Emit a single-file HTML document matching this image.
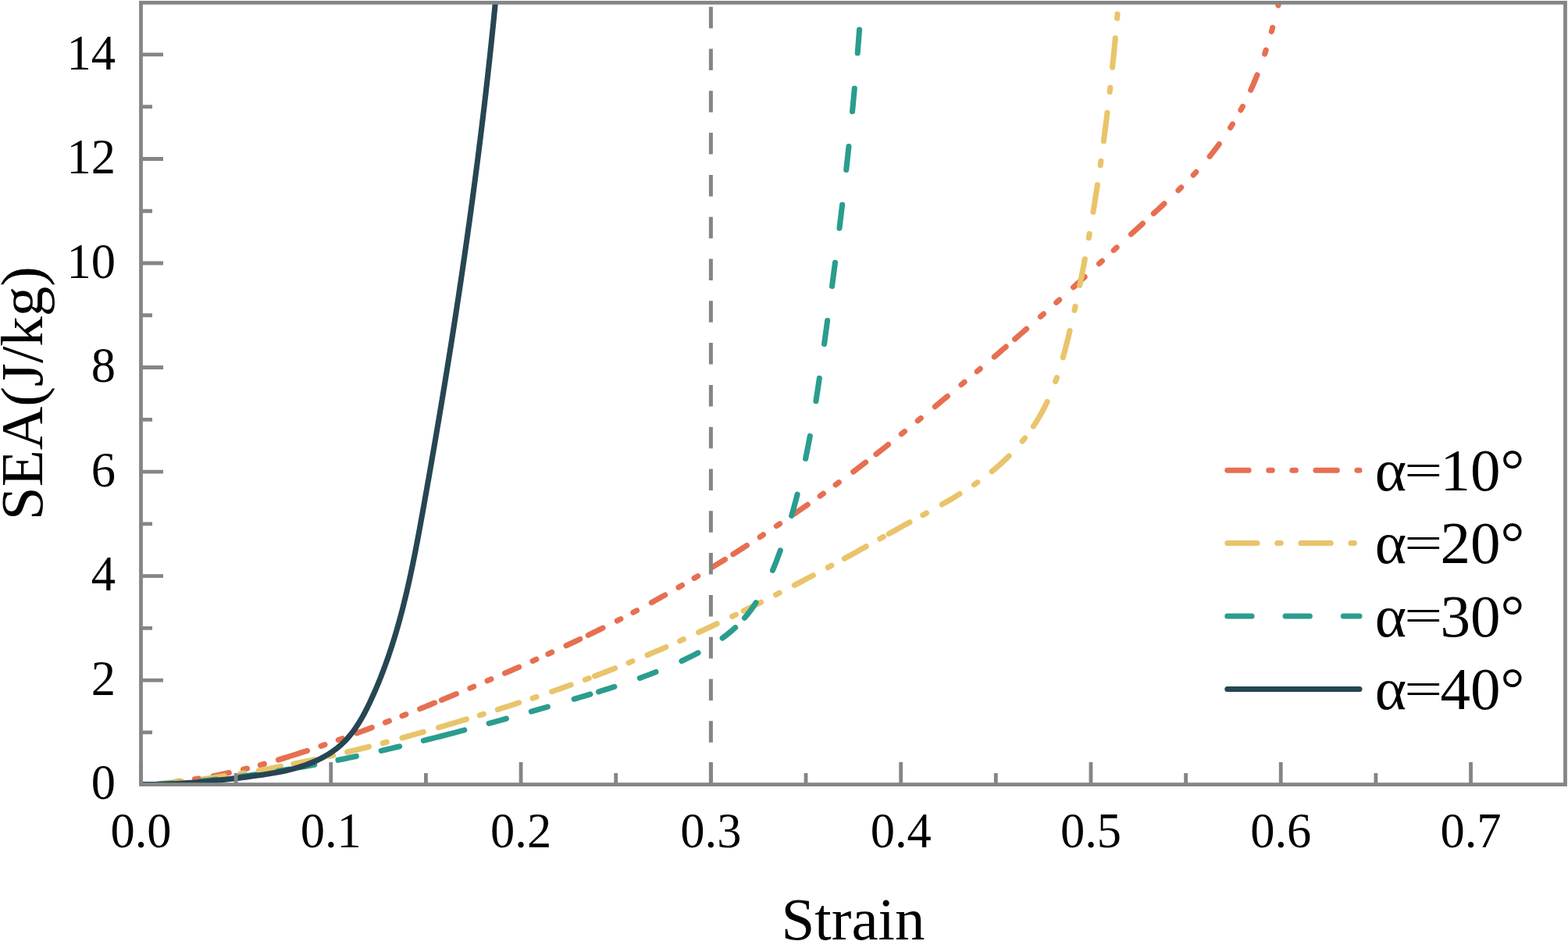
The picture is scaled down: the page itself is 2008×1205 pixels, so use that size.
<!DOCTYPE html>
<html><head><meta charset="utf-8"><title>SEA vs Strain</title>
<style>html,body{margin:0;padding:0;background:#fff;overflow:hidden;}svg{display:block;}</style>
</head><body>
<svg width="2008" height="1205" viewBox="0 0 2008 1205">
<rect width="2008" height="1205" fill="#fff"/>
<defs><clipPath id="c"><rect x="180.5" y="3.4" width="1824" height="1001.2"/></clipPath></defs>
<g clip-path="url(#c)" fill="none" stroke-linecap="round" stroke-linejoin="round" stroke-width="7.1">
<path d="M225.41,1000.95 230.57,1000.36M249.34,997.80 254.48,996.99M273.15,993.70 279.86,992.39 286.56,991.01 293.25,989.57M311.50,985.30 316.54,984.04M333.31,979.63 338.33,978.25M356.43,973.01 363.87,970.76 371.30,968.46 378.71,966.11 386.11,963.72 393.49,961.28M411.06,955.32 415.98,953.62M433.29,947.49 438.19,945.74M456.92,938.91 463.39,936.51 469.86,934.10 476.32,931.66M493.50,925.11 498.35,923.24M514.98,916.76 519.82,914.84M537.62,907.75 543.92,905.20 550.23,902.65 556.52,900.08M565.40,896.44 571.73,893.82 578.07,891.20 584.39,888.56M601.91,881.20 606.70,879.17M624.12,871.75 628.90,869.69M646.57,862.06 652.60,859.44 658.62,856.80 664.63,854.15M682.11,846.40 686.85,844.27M701.98,837.43 706.70,835.27M725.06,826.77 731.00,823.98 736.93,821.18 742.85,818.36M753.24,813.36 759.51,810.31 765.76,807.24 772.01,804.16M790.23,794.97 794.86,792.59M810.92,784.23 815.52,781.79M834.31,771.64 840.12,768.44 845.92,765.22 851.70,761.98M868.98,752.13 873.47,749.52M889.11,740.34 893.58,737.68M912.30,726.35 917.68,723.04 923.06,719.72 928.43,716.37M938.85,709.83 944.71,706.10 950.56,702.36 956.40,698.61M973.14,687.70 977.49,684.84M994.32,673.62 998.64,670.72M1017.66,657.76 1023.18,653.95 1028.68,650.13 1034.19,646.31M1050.11,635.09 1054.35,632.07M1070.04,620.76 1074.24,617.70M1092.69,604.04 1097.99,600.05 1103.29,596.04 1108.57,592.01M1122.00,581.61 1127.21,577.53 1132.40,573.43 1137.59,569.31M1154.41,555.82 1158.45,552.54M1175.27,538.83 1179.29,535.53M1197.36,520.67 1202.70,516.25 1208.04,511.83 1213.37,507.40M1231.04,492.65 1235.03,489.31M1251.24,475.65 1255.21,472.28M1273.24,456.95 1278.23,452.68 1283.21,448.39 1288.20,444.11M1299.63,434.23 1304.59,429.92 1309.55,425.61 1314.50,421.30M1332.47,405.51 1336.37,402.07M1352.79,387.47 1356.66,384.00M1374.61,367.83 1379.46,363.42 1384.30,359.01 1389.14,354.60M1407.58,337.68 1411.40,334.16M1426.21,320.50 1430.03,316.98M1448.51,299.93 1453.46,295.37 1458.41,290.81 1463.37,286.26M1477.35,273.44 1481.90,269.26 1486.44,265.06 1490.97,260.85M1508.94,243.73 1512.65,240.08M1528.18,224.16 1531.73,220.35M1549.09,200.34 1553.23,195.15 1557.28,189.89 1561.25,184.57M1575.69,163.40 1578.45,158.99M1588.94,140.92 1591.41,136.34M1601.73,115.35 1604.58,108.95 1607.32,102.50 1609.95,96.00M1619.61,69.14 1621.21,64.19M1628.30,40.33 1629.67,35.31M1636.89,6.82 1638.31,0.86 1639.70,-5.12" stroke="#E76F51"/>
<path d="M208.09,1002.99 214.29,1002.47 220.48,1001.93 226.67,1001.34 232.85,1000.72M260.26,997.58 267.07,996.69 273.88,995.78 280.68,994.83 287.47,993.85M307.64,990.73 312.77,989.89M331.50,986.68 338.51,985.42 345.51,984.12 352.50,982.81 359.49,981.46M376.00,978.18 382.51,976.84 389.01,975.49 395.51,974.11 402.01,972.71M421.61,968.39 426.68,967.24M444.63,963.05 451.59,961.38 458.54,959.68 465.48,957.95 472.42,956.19M490.27,951.55 495.30,950.21M515.02,944.86 521.86,942.97 528.69,941.07 535.51,939.14 542.34,937.21M561.57,931.68 568.76,929.57 575.95,927.45 583.13,925.32 590.31,923.16 597.48,920.99M614.33,915.84 619.29,914.29M637.36,908.62 644.18,906.44 651.00,904.26 657.81,902.05 664.61,899.83M682.07,894.03 687.00,892.38M706.68,885.64 712.80,883.50 718.92,881.35 725.03,879.18 731.14,876.99M749.34,870.35 754.22,868.54M761.47,865.82 768.00,863.34 774.52,860.84 781.03,858.32 787.54,855.77M805.07,848.77 809.88,846.80M829.01,838.86 835.00,836.32 840.98,833.77 846.94,831.18 852.91,828.59M870.66,820.72 875.41,818.59M894.69,809.77 900.56,807.05 906.43,804.31 912.28,801.55 918.13,798.79M937.69,789.39 942.37,787.11M952.17,782.31 957.76,779.56 963.34,776.79 968.92,774.01 974.49,771.22M993.50,761.62 998.13,759.25M1017.35,749.36 1023.35,746.24 1029.34,743.11 1035.33,739.97 1041.32,736.81M1060.29,726.69 1064.87,724.22M1081.49,715.17 1088.42,711.36 1095.34,707.53 1102.26,703.69 1109.17,699.83M1126.87,689.93 1131.41,687.39M1138.34,683.52 1144.97,679.82 1151.61,676.14 1158.25,672.46 1164.90,668.79M1181.86,659.52 1186.42,657.02M1206.37,645.94 1212.08,642.68 1217.76,639.36 1223.42,636.01 1229.03,632.58M1247.53,620.60 1251.80,617.63M1270.18,603.73 1275.83,599.00 1281.37,594.13 1286.78,589.11 1292.06,583.96M1309.24,564.99 1312.50,560.93M1323.31,546.06 1327.25,539.97 1331.01,533.77 1334.56,527.44 1337.90,521.01 1341.06,514.48M1351.66,488.48 1353.38,483.57M1361.32,457.75 1363.17,450.93 1364.96,444.10 1366.68,437.24 1368.36,430.38 1369.99,423.50M1375.93,397.44 1377.05,392.36M1382.78,365.25 1384.13,358.56 1385.46,351.87 1386.78,345.17 1388.07,338.47 1389.35,331.76M1394.30,304.57 1395.21,299.45M1399.93,271.45 1401.06,264.53 1402.16,257.61 1403.25,250.69 1404.32,243.77 1405.38,236.85M1409.12,211.43 1409.86,206.28M1413.35,180.75 1414.32,173.49 1415.26,166.22 1416.19,158.96 1417.10,151.69 1417.99,144.42M1421.17,117.53 1421.76,112.36M1424.59,86.22 1425.37,78.74 1426.13,71.26 1426.88,63.78 1427.60,56.29 1428.31,48.81M1430.62,23.35 1431.06,18.17" stroke="#E9C46A"/>
<path d="M203.11,1004.12 209.37,1003.77 215.63,1003.40 221.89,1002.99M257.97,1000.04 264.25,999.43 270.52,998.79 276.78,998.12M307.98,994.38 314.30,993.54 320.60,992.68 326.91,991.80M356.19,987.34 363.16,986.21 370.12,985.04M382.88,982.84 389.51,981.65 396.13,980.44 402.76,979.21M432.98,973.30 440.78,971.69 448.57,970.07 456.35,968.41M488.17,961.35 494.03,960.00 499.88,958.64 505.73,957.27 511.58,955.88M542.31,948.39 549.83,946.52 557.33,944.61 564.84,942.70 572.34,940.77 579.83,938.81 587.32,936.85 594.81,934.87M626.14,926.41 633.56,924.36 640.97,922.31 648.38,920.24M680.36,911.19 687.38,909.17 694.39,907.16 701.39,905.12M735.17,895.22 742.10,893.18 749.02,891.11 755.94,889.02M766.53,885.79 773.32,883.69 780.09,881.55 786.85,879.38M819.33,868.30 826.22,865.78 833.08,863.20 839.92,860.54M872.94,846.42 880.03,843.07 887.06,839.60 894.03,836.02M925.13,817.10 930.82,812.85 936.34,808.38 941.65,803.68M953.52,791.33 957.40,786.64 961.10,781.81 964.64,776.86 968.02,771.80M989.43,730.44 992.05,724.11 994.57,717.73 996.99,711.33 999.33,704.89M1013.67,660.46 1015.61,653.66 1017.49,646.83 1019.32,640.00 1021.09,633.15M1031.65,587.25 1033.12,580.04 1034.54,572.82 1035.93,565.60 1037.28,558.37M1044.89,513.62 1046.03,506.32 1047.15,499.03 1048.24,491.72 1049.32,484.42M1055.55,440.41 1056.57,432.95 1057.60,425.50 1058.62,418.05 1059.63,410.60M1065.54,366.47 1066.54,358.90 1067.52,351.34 1068.50,343.77 1069.47,336.20M1074.99,292.13 1075.90,284.66 1076.81,277.20 1077.70,269.73 1078.59,262.26M1083.73,217.40 1084.56,209.92 1085.38,202.44 1086.18,194.96 1086.98,187.48M1091.52,142.73 1092.23,135.37 1092.93,128.02 1093.62,120.67 1094.30,113.31M1098.20,68.02 1098.80,60.53 1099.40,53.03 1099.98,45.54 1100.54,38.04" stroke="#2A9D8F"/>
<path d="M180.45,1004.58 186.45,1004.60 192.45,1004.57 198.45,1004.49 204.45,1004.36 210.45,1004.18 216.44,1003.96 222.44,1003.69 228.43,1003.38 234.42,1003.02 240.41,1002.63 246.39,1002.20 252.37,1001.73 258.35,1001.23 264.33,1000.69 270.30,1000.12 276.27,999.52 282.24,998.90 288.20,998.24 294.16,997.56 300.12,996.86 306.08,996.14 312.03,995.39 317.98,994.63 323.93,993.85 329.88,993.05 335.82,992.21 341.75,991.33 347.68,990.37 353.59,989.34 359.48,988.21 365.35,986.97 371.19,985.60 377.00,984.08 382.76,982.42 388.47,980.59 394.13,978.58 399.71,976.38 405.21,973.99 410.62,971.38 415.91,968.56 421.08,965.51 426.09,962.21 430.92,958.66 435.56,954.85 439.96,950.77 444.12,946.45 448.05,941.92 451.76,937.20 455.26,932.33 458.57,927.33 461.71,922.21 464.69,917.00 467.53,911.72 470.25,906.37 472.88,900.98 475.42,895.54 477.90,890.08 480.31,884.59 482.67,879.07 484.97,873.53 487.22,867.96 489.40,862.38 491.53,856.77 493.61,851.14 495.64,845.49 497.61,839.83 499.54,834.14 501.41,828.44 503.23,822.73 505.01,817.00 506.75,811.25 508.44,805.50 510.09,799.73 511.69,793.95 513.26,788.16 514.79,782.35 516.28,776.54 517.74,770.72 519.16,764.89 520.55,759.06 521.91,753.21 523.24,747.36 524.54,741.50 525.81,735.64 527.06,729.77 528.29,723.90 529.50,718.02 530.68,712.14 531.84,706.25 532.99,700.36 534.12,694.47 535.24,688.58 536.34,682.68 537.44,676.78 538.52,670.88 539.59,664.97 540.66,659.07 541.72,653.16 542.78,647.26 543.83,641.35 544.88,635.44 545.93,629.54 546.97,623.63 548.02,617.72 549.06,611.81 550.09,605.90 551.13,599.99 552.16,594.08 553.18,588.17 554.21,582.26 555.23,576.34 556.25,570.43 557.26,564.52 558.27,558.60 559.28,552.69 560.28,546.77 561.29,540.86 562.28,534.94 563.28,529.02 564.27,523.11 565.26,517.19 566.24,511.27 567.22,505.35 568.20,499.43 569.17,493.51 570.14,487.59 571.11,481.67 572.07,475.74 573.03,469.82 573.99,463.90 574.94,457.97 575.89,452.05 576.83,446.12 577.77,440.20 578.71,434.27 579.64,428.34 580.57,422.42 581.50,416.49 582.42,410.56 583.33,404.63 584.25,398.70 585.16,392.77 586.06,386.84 586.96,380.91 587.86,374.97 588.75,369.04 589.64,363.11 590.52,357.17 591.40,351.24 592.28,345.30 593.15,339.36 594.01,333.43 594.88,327.49 595.73,321.55 596.59,315.61 597.44,309.67 598.28,303.73 599.12,297.79 599.96,291.85 600.79,285.91 601.61,279.96 602.43,274.02 603.25,268.08 604.06,262.13 604.87,256.19 605.67,250.24 606.47,244.29 607.26,238.35 608.05,232.40 608.83,226.45 609.61,220.50 610.39,214.55 611.16,208.60 611.92,202.65 612.68,196.70 613.43,190.74 614.18,184.79 614.92,178.84 615.66,172.88 616.39,166.93 617.12,160.97 617.84,155.02 618.56,149.06 619.27,143.10 619.98,137.14 620.68,131.18 621.38,125.22 622.07,119.26 622.75,113.30 623.43,107.34 624.11,101.38 624.78,95.42 625.44,89.45 626.10,83.49 626.75,77.53 627.40,71.56 628.04,65.60 628.67,59.63 629.30,53.66 629.93,47.70 630.55,41.73 631.16,35.76 631.77,29.79 632.37,23.82 632.96,17.85 633.55,11.88 634.13,5.91 634.71,-0.07 635.28,-6.04 635.29,-6.07" stroke="#264653"/>
</g>
<line x1="910.37" y1="1004.60" x2="910.37" y2="3.40" stroke="#858585" stroke-width="5" stroke-dasharray="27.5 26.3"/>
<rect x="180.5" y="3.4" width="1824" height="1001.2" fill="none" stroke="#858585" stroke-width="4.8"/>
<path d="M180.50,1004.60V976.10M423.79,1004.60V976.10M667.08,1004.60V976.10M910.37,1004.60V976.10M1153.66,1004.60V976.10M1396.95,1004.60V976.10M1640.24,1004.60V976.10M1883.53,1004.60V976.10M302.14,1004.60V990.10M545.44,1004.60V990.10M788.73,1004.60V990.10M1032.02,1004.60V990.10M1275.31,1004.60V990.10M1518.60,1004.60V990.10M1761.89,1004.60V990.10M180.50,1004.60H209.00M180.50,871.08H209.00M180.50,737.56H209.00M180.50,604.04H209.00M180.50,470.52H209.00M180.50,337.00H209.00M180.50,203.48H209.00M180.50,69.96H209.00M180.50,937.84H195.00M180.50,804.32H195.00M180.50,670.80H195.00M180.50,537.28H195.00M180.50,403.76H195.00M180.50,270.24H195.00M180.50,136.72H195.00" stroke="#858585" stroke-width="4.8" fill="none"/>
<g font-family="'Liberation Serif', 'Times New Roman', serif" font-size="62.5" fill="#000"><text x="148" y="1023.2" text-anchor="end">0</text><text x="148" y="889.7" text-anchor="end">2</text><text x="148" y="756.2" text-anchor="end">4</text><text x="148" y="622.6" text-anchor="end">6</text><text x="148" y="489.1" text-anchor="end">8</text><text x="148" y="355.6" text-anchor="end">10</text><text x="148" y="222.1" text-anchor="end">12</text><text x="148" y="88.6" text-anchor="end">14</text><text x="180.5" y="1084.8" text-anchor="middle">0.0</text><text x="423.8" y="1084.8" text-anchor="middle">0.1</text><text x="667.1" y="1084.8" text-anchor="middle">0.2</text><text x="910.4" y="1084.8" text-anchor="middle">0.3</text><text x="1153.7" y="1084.8" text-anchor="middle">0.4</text><text x="1397.0" y="1084.8" text-anchor="middle">0.5</text><text x="1640.2" y="1084.8" text-anchor="middle">0.6</text><text x="1883.5" y="1084.8" text-anchor="middle">0.7</text></g>
<text x="1092.5" y="1203" text-anchor="middle" font-family="'Liberation Serif', 'Times New Roman', serif" font-size="77" fill="#000">Strain</text>
<text transform="translate(53.8,503.6) rotate(-90)" text-anchor="middle" font-family="'Liberation Serif', 'Times New Roman', serif" font-size="77" fill="#000">SEA(J/kg)</text>
<line x1="1571.75" y1="602.2" x2="1741" y2="602.2" stroke="#E76F51" stroke-width="7" stroke-linecap="round" stroke-dasharray="27.4 25.6 4.5 25.6 4.5 25.6"/><g font-family="'Liberation Serif', 'Times New Roman', serif" font-size="77" fill="#000"><text x="1760.70" y="627.90">α</text><text x="1801.04" y="627.90" transform="translate(1822.79 602.60) scale(1.13 0.79) translate(-1822.79 -602.60)">=</text><text x="1844.47" y="627.90">10°</text></g><line x1="1571.75" y1="695.4" x2="1741" y2="695.4" stroke="#E9C46A" stroke-width="7" stroke-linecap="round" stroke-dasharray="38.3 25.7 4.5 25.7"/><g font-family="'Liberation Serif', 'Times New Roman', serif" font-size="77" fill="#000"><text x="1760.70" y="721.10">α</text><text x="1801.04" y="721.10" transform="translate(1822.79 695.80) scale(1.13 0.79) translate(-1822.79 -695.80)">=</text><text x="1844.47" y="721.10">20°</text></g><line x1="1571.75" y1="789.1" x2="1741" y2="789.1" stroke="#2A9D8F" stroke-width="7" stroke-linecap="round" stroke-dasharray="31.3 43"/><g font-family="'Liberation Serif', 'Times New Roman', serif" font-size="77" fill="#000"><text x="1760.70" y="814.80">α</text><text x="1801.04" y="814.80" transform="translate(1822.79 789.50) scale(1.13 0.79) translate(-1822.79 -789.50)">=</text><text x="1844.47" y="814.80">30°</text></g><line x1="1571.75" y1="882.5" x2="1741" y2="882.5" stroke="#264653" stroke-width="7" stroke-linecap="round"/><g font-family="'Liberation Serif', 'Times New Roman', serif" font-size="77" fill="#000"><text x="1760.70" y="908.20">α</text><text x="1801.04" y="908.20" transform="translate(1822.79 882.90) scale(1.13 0.79) translate(-1822.79 -882.90)">=</text><text x="1844.47" y="908.20">40°</text></g>
</svg>
</body></html>
